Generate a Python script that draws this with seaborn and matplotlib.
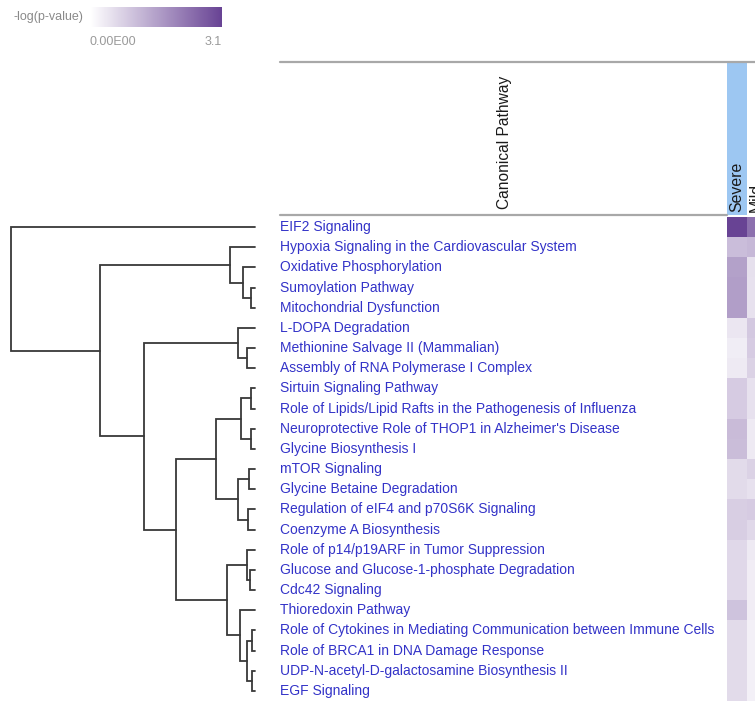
import numpy as np
import pandas as pd
import matplotlib
matplotlib.use('Agg')
import matplotlib.pyplot as plt
from matplotlib.colors import LinearSegmentedColormap
from matplotlib.lines import Line2D
import seaborn as sns

pathways = [
    'EIF2 Signaling',
    'Hypoxia Signaling in the Cardiovascular System',
    'Oxidative Phosphorylation',
    'Sumoylation Pathway',
    'Mitochondrial Dysfunction',
    'L-DOPA Degradation',
    'Methionine Salvage II (Mammalian)',
    'Assembly of RNA Polymerase I Complex',
    'Sirtuin Signaling Pathway',
    'Role of Lipids/Lipid Rafts in the Pathogenesis of Influenza',
    "Neuroprotective Role of THOP1 in Alzheimer's Disease",
    'Glycine Biosynthesis I',
    'mTOR Signaling',
    'Glycine Betaine Degradation',
    'Regulation of eIF4 and p70S6K Signaling',
    'Coenzyme A Biosynthesis',
    'Role of p14/p19ARF in Tumor Suppression',
    'Glucose and Glucose-1-phosphate Degradation',
    'Cdc42 Signaling',
    'Thioredoxin Pathway',
    'Role of Cytokines in Mediating Communication between Immune Cells',
    'Role of BRCA1 in DNA Damage Response',
    'UDP-N-acetyl-D-galactosamine Biosynthesis II',
    'EGF Signaling',
]
conditions = ['Severe', 'Mild']

# -log(p-value)
severe = [3.1, 1.08, 1.55, 1.6, 1.6, 0.42, 0.31, 0.35, 0.85, 0.85, 1.12, 1.1,
          0.6, 0.6, 0.8, 0.8, 0.65, 0.65, 0.65, 1.0, 0.6, 0.6, 0.6, 0.6]
mild = [2.35, 1.17, 0.52, 0.5, 0.5, 0.9, 0.85, 0.75, 0.5, 0.5, 0.35, 0.35,
        0.75, 0.5, 0.85, 0.65, 0.35, 0.3, 0.3, 0.3, 0.25, 0.25, 0.25, 0.25]

# dendrogram merges: node 24 + k joins merge_a[k] and merge_b[k] at merge_h[k]
merge_a = [3, 2, 1, 6, 5, 8, 10, 29, 12, 14, 32, 31, 17, 16, 20, 22, 38, 19, 37, 35, 28, 26, 0]
merge_b = [4, 24, 25, 7, 27, 9, 11, 30, 13, 15, 33, 34, 18, 36, 21, 23, 39, 40, 41, 42, 43, 44, 45]
merge_h = [4, 12, 25, 8, 17, 4, 4, 14, 6, 7, 17, 39, 5, 8, 3, 3, 8, 15, 28, 79, 111, 155, 244]

sns.set_theme(style='white')
plt.rcParams['font.family'] = ['Liberation Sans', 'DejaVu Sans']

W, H = 755, 702
fig = plt.figure(figsize=(W / 100, H / 100), dpi=100)


def px_axes(x0, y0, x1, y1):
    return fig.add_axes([x0 / W, 1 - y1 / H, (x1 - x0) / W, (y1 - y0) / H])


cmap = LinearSegmentedColormap.from_list('ipa', ['#ffffff', '#684394'])
df = pd.DataFrame({'Severe': severe, 'Mild': mild}, index=pathways)
n = len(pathways)

# heatmap (Mild column runs off the right edge like the original)
ax_hm = px_axes(727, 217, 767, 701)
ax_cb = px_axes(90, 7, 222, 27)
sns.heatmap(df[conditions], ax=ax_hm, cmap=cmap, vmin=0, vmax=3.1,
            xticklabels=False, yticklabels=False,
            cbar_ax=ax_cb, cbar_kws={'orientation': 'horizontal'})
cb = ax_hm.collections[0].colorbar
cb.set_ticks([])
cb.outline.set_visible(False)
ax_hm.set_xlabel('')
ax_hm.set_ylabel('')

fig.text(83 / W, 1 - 17 / H, '-log(p-value)', ha='right', va='center', fontsize=9, color='#8a8a8a')
fig.text(90 / W, 1 - 42 / H, '0.00E00', ha='left', va='center', fontsize=9, color='#9a9a9a')
fig.text(222 / W, 1 - 42 / H, '3.1', ha='right', va='center', fontsize=9, color='#9a9a9a')

# pathway labels
ax_lab = px_axes(280, 217, 727, 701)
ax_lab.set_xlim(0, 1)
ax_lab.set_ylim(n, 0)
ax_lab.axis('off')
for i, name in enumerate(pathways):
    ax_lab.text(0, i + 0.5, name, ha='left', va='center', fontsize=10, color='#3333c8')

# header
fig.add_artist(Line2D([280 / W, 1], [1 - 62 / H] * 2, color='#a8a8a8', lw=1.6, transform=fig.transFigure))
fig.add_artist(Line2D([280 / W, 727 / W], [1 - 215 / H] * 2, color='#a8a8a8', lw=1.6, transform=fig.transFigure))
fig.add_artist(plt.Rectangle((727 / W, 1 - 215 / H), 20 / W, 153 / H, color='#9dc7f2',
                             transform=fig.transFigure, lw=0))
fig.text(505 / W, 1 - 209 / H, 'Canonical Pathway', rotation=90, ha='center', va='bottom',
         fontsize=11.2, color='#1a1a1a')
col_x = [737, 756]
for cx, cond in zip(col_x, conditions):
    fig.text(cx / W, 1 - 212 / H, cond, rotation=90, ha='center', va='bottom', fontsize=11.4, color='#1a1a1a')

# dendrogram
ax_den = px_axes(11, 217, 255, 701)
ax_den.set_xlim(max(merge_h), 0)
ax_den.set_ylim(n, 0)
ax_den.axis('off')
pos = [i + 0.5 for i in range(n)]
hgt = [0] * n
for a, b, h in zip(merge_a, merge_b, merge_h):
    ax_den.plot([hgt[a], h, h, hgt[b]], [pos[a], pos[a], pos[b], pos[b]],
                color='#383838', lw=1.3, solid_joinstyle='miter', clip_on=False)
    pos.append((pos[a] + pos[b]) / 2)
    hgt.append(h)

fig.savefig('out.png', dpi=100)
